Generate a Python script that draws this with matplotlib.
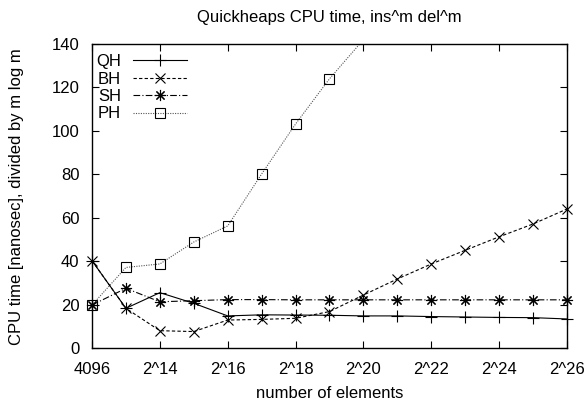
import matplotlib
matplotlib.use("Agg")
import matplotlib.pyplot as plt
import numpy as np

plt.rcParams['font.family'] = ['Liberation Sans', 'DejaVu Sans']

exponents = list(range(12, 27))
sizes = [2 ** e for e in exponents]

qh = [40.3, 18.4, 25.6, 20.7, 14.9, 15.4, 15.3, 15.2, 14.9, 14.9, 14.6, 14.4, 14.2, 14.1, 13.5]
bh = [40.3, 18.4, 8.1, 7.7, 13.0, 13.3, 13.8, 16.9, 24.5, 31.9, 38.8, 45.1, 51.3, 57.2, 64.1]
sh = [19.9, 27.6, 21.4, 21.9, 22.4, 22.4, 22.3, 22.3, 22.3, 22.3, 22.3, 22.3, 22.3, 22.3, 22.3]
ph = [19.9, 37.2, 38.8, 48.9, 56.3, 80.2, 103.2, 124.0, 142.0]

tick_exps = [12, 14, 16, 18, 20, 22, 24, 26]
tick_labels = ['4096', '2^14', '2^16', '2^18', '2^20', '2^22', '2^24', '2^26']
yticks = [0, 20, 40, 60, 80, 100, 120, 140]

FS = 12
W, H = 586, 407
fig = plt.figure(figsize=(W / 100, H / 100), dpi=100)
ax = fig.add_axes([92 / W, 1 - 348.3 / H, (567 - 92) / W, (348.3 - 44) / H])

lw = 0.8
ms = 7
ax.plot(sizes, qh, color='black', lw=lw, ls='-', marker='+', ms=ms + 1, mew=0.8,
        label='QH', clip_on=False, zorder=3)
ax.plot(sizes, bh, color='black', lw=lw, ls=(0, (3, 2)), marker='x', ms=ms, mew=0.8,
        label='BH', clip_on=False, zorder=3)
ax.plot(sizes, sh, color='black', lw=lw, ls=(0, (6, 2, 1, 2)), marker=(8, 2, 0), ms=ms + 1, mew=0.8,
        label='SH', clip_on=False, zorder=3)

ph_x = sizes[:len(ph)]
ax.plot(ph_x, ph, color='#555555', lw=lw, ls=(0, (1, 1.2)), zorder=2)
in_range = [(x, y) for x, y in zip(ph_x, ph) if y <= 140]
ax.plot([p[0] for p in in_range], [p[1] for p in in_range], ls='none', marker='s', ms=ms, mew=0.8,
        mfc='none', mec='black', clip_on=False, zorder=3)
# legend proxy for PH
ax.plot([], [], color='#555555', lw=lw, ls=(0, (1, 1.2)), marker='s', ms=ms, mew=0.8,
        mfc='none', mec='black', label='PH')

ax.set_xscale('log', base=2)
ax.set_xlim(2 ** 12, 2 ** 26)
ax.set_ylim(0, 140)
ax.set_xticks([2 ** e for e in tick_exps])
ax.set_xticklabels(tick_labels)
ax.xaxis.set_minor_locator(matplotlib.ticker.NullLocator())
ax.set_yticks(yticks)
ax.tick_params(direction='in', top=True, right=True, length=5, width=0.8, labelsize=FS)
ax.tick_params(axis='x', pad=10)
ax.tick_params(axis='y', pad=9)
for s in ax.spines.values():
    s.set_linewidth(1.0)

ax.set_title('Quickheaps CPU time, ins^m del^m', fontsize=FS, pad=15.5)
ax.set_xlabel('number of elements', fontsize=FS, labelpad=6)
ax.set_ylabel('CPU time [nanosec], divided by m log m', fontsize=FS, labelpad=20)

ax.legend(loc='upper left', bbox_to_anchor=(96 / W, 1 - 54 / H), bbox_transform=fig.transFigure,
          frameon=False, markerfirst=False, handlelength=3.2, handletextpad=0.75,
          labelspacing=0.15, fontsize=FS, borderaxespad=0, borderpad=0)

fig.savefig('out.png', dpi=100)
